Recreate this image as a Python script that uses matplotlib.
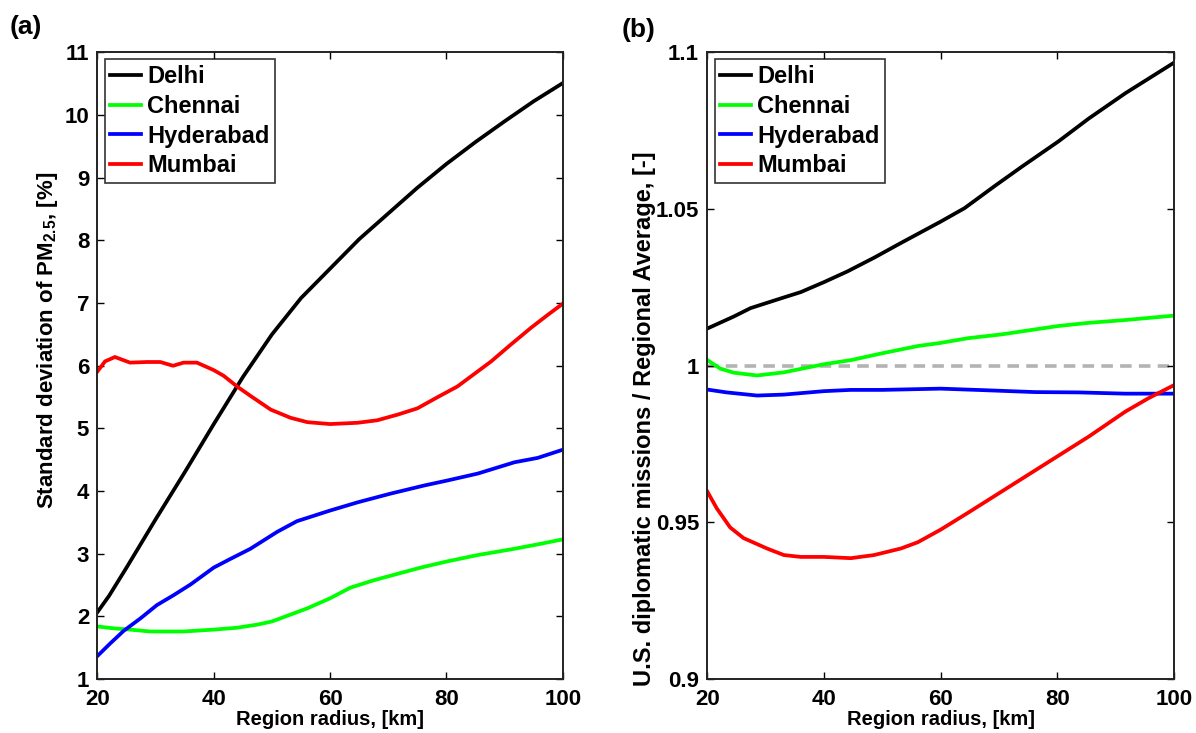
import matplotlib
matplotlib.use("Agg")
import matplotlib.pyplot as plt

plt.rcParams['font.family'] = ['Liberation Sans', 'DejaVu Sans']
plt.rcParams['font.weight'] = 'bold'
plt.rcParams['mathtext.fontset'] = 'custom'
plt.rcParams['mathtext.rm'] = 'Liberation Sans:bold'
plt.rcParams['mathtext.it'] = 'Liberation Sans:bold'
plt.rcParams['mathtext.default'] = 'rm'

# ---- (a) standard deviation of PM2.5 vs region radius ----
a_delhi_x = [20, 22, 25, 30, 35, 40, 45, 50, 55, 60, 65, 70, 75, 80, 85, 90, 95, 100]
a_delhi_y = [2.07, 2.33, 2.78, 3.55, 4.30, 5.07, 5.82, 6.50, 7.08, 7.55, 8.02, 8.43, 8.84, 9.22, 9.57, 9.90, 10.22, 10.51]

a_chennai_x = [20, 22.8, 25.6, 29.1, 34.8, 40.0, 44.0, 47.5, 50.0, 53.2, 56.1, 60.0, 63.5, 67.6, 71.6, 75.6, 80.2, 85.4, 91.7, 95.7, 100]
a_chennai_y = [1.84, 1.81, 1.79, 1.76, 1.76, 1.79, 1.82, 1.87, 1.92, 2.03, 2.13, 2.29, 2.46, 2.58, 2.68, 2.78, 2.88, 2.98, 3.08, 3.15, 3.23]

a_hyd_x = [20, 22.2, 24.5, 27.4, 30.2, 33.1, 36.0, 40.0, 42.9, 46.3, 50.9, 54.3, 60.0, 64.7, 70.4, 76.2, 80.2, 85.4, 91.7, 95.7, 100]
a_hyd_y = [1.37, 1.57, 1.77, 1.97, 2.18, 2.34, 2.51, 2.78, 2.92, 3.08, 3.35, 3.52, 3.69, 3.82, 3.96, 4.09, 4.17, 4.28, 4.46, 4.53, 4.66]

a_mumbai_x = [20, 21.3, 23.0, 25.6, 28.5, 30.8, 33.0, 34.8, 37.1, 40.0, 41.7, 44.0, 46.3, 49.8, 53.2, 56.1, 60.0, 64.7, 68.1, 71.6, 75.0, 78.5, 81.9, 84.8, 87.7, 91.1, 94.6, 97.4, 100]
a_mumbai_y = [5.91, 6.07, 6.14, 6.05, 6.06, 6.06, 6.00, 6.05, 6.05, 5.93, 5.84, 5.67, 5.52, 5.30, 5.17, 5.10, 5.07, 5.09, 5.13, 5.22, 5.32, 5.50, 5.67, 5.87, 6.07, 6.34, 6.61, 6.81, 6.99]

# ---- (b) ratio of U.S. mission value to regional average ----
b_delhi_x = [20, 24.5, 27.4, 33.1, 36.0, 40.0, 44.0, 48.6, 53.2, 60.0, 64.1, 69.3, 73.9, 80.2, 85.4, 91.7, 100]
b_delhi_y = [1.0119, 1.0157, 1.0184, 1.0218, 1.0235, 1.0267, 1.0301, 1.0345, 1.0392, 1.0460, 1.0503, 1.0574, 1.0635, 1.0716, 1.0789, 1.0870, 1.0967]

b_chennai_x = [20, 22.2, 24.5, 28.5, 33.1, 40.0, 44.6, 50.0, 56.1, 60.0, 64.7, 70.4, 76.2, 80.2, 85.4, 91.7, 100]
b_chennai_y = [1.0018, 0.9991, 0.9978, 0.9969, 0.9979, 1.0005, 1.0018, 1.0040, 1.0063, 1.0073, 1.0088, 1.0100, 1.0116, 1.0127, 1.0137, 1.0146, 1.0160]

b_hyd_x = [20, 23.3, 28.5, 33.1, 40.0, 44.6, 50.0, 60.0, 67.6, 76.2, 83.6, 91.7, 100]
b_hyd_y = [0.9924, 0.9915, 0.9905, 0.9908, 0.9919, 0.9923, 0.9923, 0.9927, 0.9922, 0.9916, 0.9915, 0.9911, 0.9911]

b_mumbai_x = [20, 21.6, 23.9, 26.2, 30.2, 33.1, 36.0, 40.0, 44.6, 48.6, 53.2, 56.1, 60.0, 64.7, 69.3, 73.9, 80.2, 85.4, 91.7, 95.7, 100]
b_mumbai_y = [0.9598, 0.9545, 0.9484, 0.9450, 0.9417, 0.9396, 0.9390, 0.9390, 0.9386, 0.9396, 0.9417, 0.9437, 0.9477, 0.9531, 0.9585, 0.9639, 0.9713, 0.9774, 0.9854, 0.9897, 0.9938]

cities = ["Delhi", "Chennai", "Hyderabad", "Mumbai"]
colors = ["#000000", "#00ff00", "#0000ff", "#ff0000"]
x_ticks = [20, 40, 60, 80, 100]
a_yticks = list(range(1, 12))
b_yticks = [0.9, 0.95, 1.0, 1.05, 1.1]
b_yticklabels = ["0.9", "0.95", "1", "1.05", "1.1"]

fig = plt.figure(figsize=(11.96, 7.33), dpi=100)
ax1 = fig.add_axes([0.0815, 0.0735, 0.389, 0.855])
ax2 = fig.add_axes([0.5915, 0.0735, 0.390, 0.855])

lw = 2.7
series_a = [(a_delhi_x, a_delhi_y), (a_chennai_x, a_chennai_y), (a_hyd_x, a_hyd_y), (a_mumbai_x, a_mumbai_y)]
series_b = [(b_delhi_x, b_delhi_y), (b_chennai_x, b_chennai_y), (b_hyd_x, b_hyd_y), (b_mumbai_x, b_mumbai_y)]

for (xs, ys), name, c in zip(series_a, cities, colors):
    ax1.plot(xs, ys, color=c, lw=lw, label=name)

ax2.axhline(1.0, color="#b3b3b3", lw=2.6, ls=(0, (3.2, 2.0)), zorder=1)
for (xs, ys), name, c in zip(series_b, cities, colors):
    ax2.plot(xs, ys, color=c, lw=lw, label=name, zorder=2)

for ax in (ax1, ax2):
    ax.set_xlim(20, 100)
    ax.set_xticks(x_ticks)
    ax.tick_params(direction="in", length=5, width=1, top=True, right=True,
                   labelsize=16, colors="#000000")
    ax.tick_params(axis="x", pad=7)
    ax.tick_params(axis="y", pad=6)
    for s in ax.spines.values():
        s.set_linewidth(1.4)
        s.set_color("#222222")
    ax.set_xlabel("Region radius, [km]", fontsize=14.5, fontweight="bold", labelpad=0)
    leg = ax.legend(loc="upper left", frameon=True, fancybox=False,
                    edgecolor="#000000", handlelength=1.3, handletextpad=0.25,
                    labelspacing=0.28, borderpad=0.25, borderaxespad=0.3,
                    prop={"weight": "bold", "size": 17})
    leg.get_frame().set_linewidth(1.2)

ax1.set_ylim(1, 11)
ax1.set_yticks(a_yticks)
ax1.set_ylabel("Standard deviation of PM$_{2.5}$, [%]", fontsize=16, fontweight="bold")
ax1.yaxis.set_label_coords(-0.081, 0.54)

ax2.set_ylim(0.9, 1.1)
ax2.set_yticks(b_yticks)
ax2.set_yticklabels(b_yticklabels)
ax2.set_ylabel("U.S. diplomatic missions / Regional Average, [-]", fontsize=17, fontweight="bold")
ax2.yaxis.set_label_coords(-0.11, 0.415)

for ax in (ax1, ax2):
    for lab in ax.get_xticklabels() + ax.get_yticklabels():
        lab.set_fontweight("bold")

fig.text(0.008, 0.953, "(a)", fontsize=19, fontweight="bold")
fig.text(0.520, 0.950, "(b)", fontsize=19, fontweight="bold")

fig.savefig("out.png", dpi=100)
